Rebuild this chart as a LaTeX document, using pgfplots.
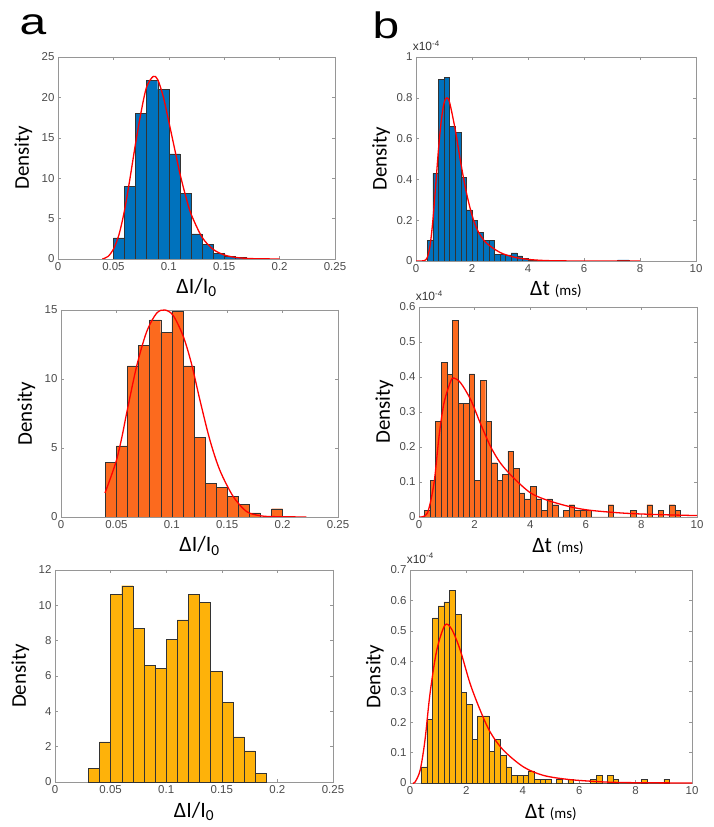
\documentclass[border=0pt]{standalone}
\usepackage{fontspec}
\setmainfont{Carlito}
\newfontfamily\tickfont{Liberation Sans}
\usepackage{pgfplots}
\pgfplotsset{compat=1.18}
\definecolor{mblue}{RGB}{0,114,189}
\definecolor{morange}{RGB}{252,106,30}
\definecolor{myellow}{RGB}{254,178,10}
\definecolor{tickgray}{RGB}{75,75,75}
\definecolor{framegray}{RGB}{150,150,150}
\pgfplotsset{
 panel/.style={
  scale only axis,
  anchor=south west,
  axis line style={framegray, line width=0.7bp},
  tick style={framegray, line width=0.5bp},
  major tick length=3bp,
  tick align=inside,
  ymin=0,
  scaled ticks=false,
  tick label style={font=\fontsize{11.5}{13}\selectfont\tickfont, text=tickgray},
  /pgf/number format/assume math mode=true,
  /pgf/number format/fixed,
  /pgf/number format/precision=2,
  ylabel={Density},
  ylabel style={font=\fontsize{21}{24}\selectfont, at={(axis description cs:-0.125,0.5)}, anchor=center},
  xlabel style={font=\fontsize{22}{24}\selectfont, at={(axis description cs:0.5,-0.14)}, anchor=center},
 },
 ipanel/.style={panel, xmin=0, xmax=0.25, xtick={0,0.05,0.1,0.15,0.2,0.25},
   xlabel={ΔI/I\textsubscript{0}}},
 tpanel/.style={panel, xmin=0, xmax=10, xtick={0,2,4,6,8,10},
   xlabel={Δt {\fontsize{15}{18}\selectfont(ms)}},
   after end axis/.append code={\node[anchor=south west, inner sep=0pt, font=\fontsize{12}{13}\selectfont\tickfont, text=black!80] at (axis description cs:-0.012,1.03) {x10\textsuperscript{-4}};}},
 hist/.style={ybar interval, draw=black!80, line width=0.4bp},
 fit/.style={red, line width=1.3bp, smooth, mark=none},
}

\pgfplotstableread{
x y
0.05 2.6
0.06 9.0
0.07 18.0
0.08 22.1
0.09 21.0
0.10 13.0
0.11 8.1
0.12 3.1
0.13 1.8
0.14 0.7
0.15 0.35
0.16 0.2
0.17 0.2
}\histA

\pgfplotstableread{
x y
0.4 0.10
0.6 0.43
0.8 0.89
1.0 0.90
1.2 0.66
1.4 0.63
1.6 0.41
1.8 0.25
2.0 0.20
2.2 0.14
2.4 0.10
2.6 0.10
2.8 0.033
3.0 0.033
3.2 0.03
3.4 0.04
3.6 0.025
3.8 0.012
4.0 0.005
4.2 0.002
4.4 0.002
4.6 0.004
4.8 0.004
5.0 0.004
5.2 0.004
}\histB

\pgfplotstableread{
x y
7.2 0.006
7.4 0.006
7.6 0.006
}\histBb

\pgfplotstableread{
x y
0.04 3.95
0.05 5.16
0.06 10.95
0.07 12.44
0.08 14.28
0.09 13.36
0.10 14.88
0.11 10.95
0.12 5.79
0.13 2.46
0.14 2.15
0.15 1.50
0.16 0.90
0.17 0.30
0.18 0
0.19 0.60
0.20 0.60
}\histC

\pgfplotstableread{
x y
0.2 0.018
0.4 0.104
0.6 0.274
0.8 0.441
1.0 0.407
1.2 0.562
1.4 0.324
1.6 0.324
1.8 0.409
2.0 0.104
2.2 0.390
2.4 0.274
2.6 0.155
2.8 0.104
3.0 0.121
3.2 0.188
3.4 0.138
3.6 0.069
3.8 0.052
4.0 0.087
4.2 0.052
4.4 0.018
4.6 0.052
4.8 0.035
5.0 0
5.2 0.018
5.4 0.035
5.6 0.018
5.8 0.018
6.0 0.018
6.2 0
6.4 0
6.6 0
6.8 0.035
7.0 0
7.2 0
7.4 0
7.6 0.018
7.8 0
8.0 0
8.2 0.035
8.4 0
8.6 0.018
8.8 0
9.0 0.035
9.2 0.018
9.4 0.018
}\histD

\pgfplotstableread{
x y
0.03 0.79
0.04 2.27
0.05 10.62
0.06 11.11
0.07 8.70
0.08 6.60
0.09 6.43
0.10 8.07
0.11 9.17
0.12 10.62
0.13 10.15
0.14 6.28
0.15 4.50
0.16 2.55
0.17 1.76
0.18 0.47
0.19 0.47
}\histE

\pgfplotstableread{
x y
0.4 0.053
0.6 0.209
0.8 0.543
1.0 0.582
1.2 0.595
1.4 0.632
1.6 0.555
1.8 0.297
2.0 0.259
2.2 0.144
2.4 0.221
2.6 0.221
2.8 0.104
3.0 0.143
3.2 0.091
3.4 0.053
3.6 0.026
3.8 0.026
4.0 0.026
4.2 0.040
4.4 0.013
4.6 0.013
4.8 0.013
5.0 0
5.2 0.013
5.4 0
5.6 0.013
5.8 0
6.0 0
6.2 0
6.4 0.013
6.6 0.026
6.8 0
7.0 0.026
7.2 0.013
7.4 0
7.6 0
7.8 0
8.0 0
8.2 0.013
8.4 0
8.6 0
8.8 0
9.0 0.013
9.2 0.013
}\histF

\begin{document}
\begin{tikzpicture}
\path[use as bounding box] (0,0) rectangle (714bp,827bp);
\node[font=\fontsize{37}{40}\selectfont\tickfont, xscale=1.3] at (33bp,802bp) {a};
\node[font=\fontsize{37}{40}\selectfont\tickfont, xscale=1.3] at (386bp,802bp) {b};

% Panel 1
\begin{axis}[ipanel, at={(58bp,568bp)}, width=277bp, height=202bp, ymax=25, ytick={0,5,10,15,20,25}]
\addplot[hist, fill=mblue] table[x=x,y=y] {\histA};
\addplot[fit] coordinates {(0.04,0.0) (0.045,0.3) (0.05,1.2) (0.055,3.0) (0.06,6.0) (0.065,10.0) (0.07,14.3) (0.075,18.2) (0.08,21.3) (0.086,22.6) (0.09,22.2) (0.095,20.1) (0.10,17.0) (0.105,13.8) (0.11,10.6) (0.115,7.9) (0.12,5.6) (0.13,2.7) (0.14,1.2) (0.15,0.5) (0.16,0.2) (0.17,0.08) (0.18,0.03) (0.2,0.0)};
\end{axis}

% Panel 2
\begin{axis}[tpanel, at={(416bp,566bp)}, width=280bp, height=204bp, ymax=1, ytick={0,0.2,0.4,0.6,0.8,1}]
\addplot[hist, fill=mblue] table[x=x,y=y] {\histB};
\addplot[hist, fill=mblue] table[x=x,y=y] {\histBb};
\addplot[fit] coordinates {(0,0) (0.2,0) (0.3,0.002) (0.4,0.016) (0.5,0.073) (0.6,0.195) (0.7,0.365) (0.8,0.542) (0.9,0.685) (1.0,0.773) (1.1,0.8) (1.2,0.777) (1.4,0.645) (1.6,0.48) (1.8,0.335) (2.0,0.225) (2.2,0.15) (2.5,0.09) (3.0,0.042) (3.5,0.019) (4.0,0.008) (4.5,0.003) (5,0.001) (6,0) (8,0)};
\end{axis}

% Panel 3
\begin{axis}[ipanel, at={(61bp,310bp)}, width=277bp, height=207bp, ymax=15, ytick={0,5,10,15}]
\addplot[hist, fill=morange] table[x=x,y=y] {\histC};
\addplot[fit] coordinates {(0.0397,1.74) (0.045,2.9) (0.0502,4.15) (0.055,5.8) (0.0592,7.5) (0.0682,10.9) (0.0772,13.4) (0.0862,14.76) (0.0937,15.0) (0.1013,14.6) (0.1103,13.1) (0.1178,11.1) (0.1253,8.5) (0.1343,5.6) (0.1433,3.4) (0.1553,1.5) (0.1674,0.4) (0.179,0.1) (0.19,0.03) (0.2214,0)};
\end{axis}

% Panel 4
\begin{axis}[tpanel, at={(419bp,310bp)}, width=278bp, height=210bp, ymax=0.6, ytick={0,0.1,0.2,0.3,0.4,0.5,0.6}]
\addplot[hist, fill=morange] table[x=x,y=y] {\histD};
\addplot[fit] coordinates {(0,0) (0.3,0.011) (0.54,0.097) (0.72,0.23) (0.9,0.326) (1.14,0.388) (1.26,0.397) (1.5,0.383) (1.86,0.335) (2.2,0.269) (2.57,0.202) (2.93,0.154) (3.41,0.111) (4.01,0.069) (4.61,0.048) (5.45,0.029) (6.17,0.019) (7.37,0.011) (8.56,0.007) (10,0.004)};
\end{axis}

% Panel 5
\begin{axis}[ipanel, at={(55bp,45bp)}, width=278bp, height=212bp, ymax=12, ytick={0,2,4,6,8,10,12}]
\addplot[hist, fill=myellow] table[x=x,y=y] {\histE};
\end{axis}

% Panel 6
\begin{axis}[tpanel, at={(410bp,44bp)}, width=282bp, height=213bp, ymax=0.7, ytick={0,0.1,0.2,0.3,0.4,0.5,0.6,0.7}]
\addplot[hist, fill=myellow] table[x=x,y=y] {\histF};
\addplot[fit] coordinates {(0.1,0) (0.18,0.003) (0.36,0.042) (0.53,0.14) (0.71,0.294) (0.95,0.437) (1.24,0.519) (1.48,0.505) (1.78,0.437) (2.13,0.327) (2.49,0.239) (2.84,0.168) (3.31,0.108) (4.02,0.053) (4.73,0.025) (5.68,0.011) (6.98,0.003) (8,0.001) (10,0)};
\end{axis}
\end{tikzpicture}
\end{document}
